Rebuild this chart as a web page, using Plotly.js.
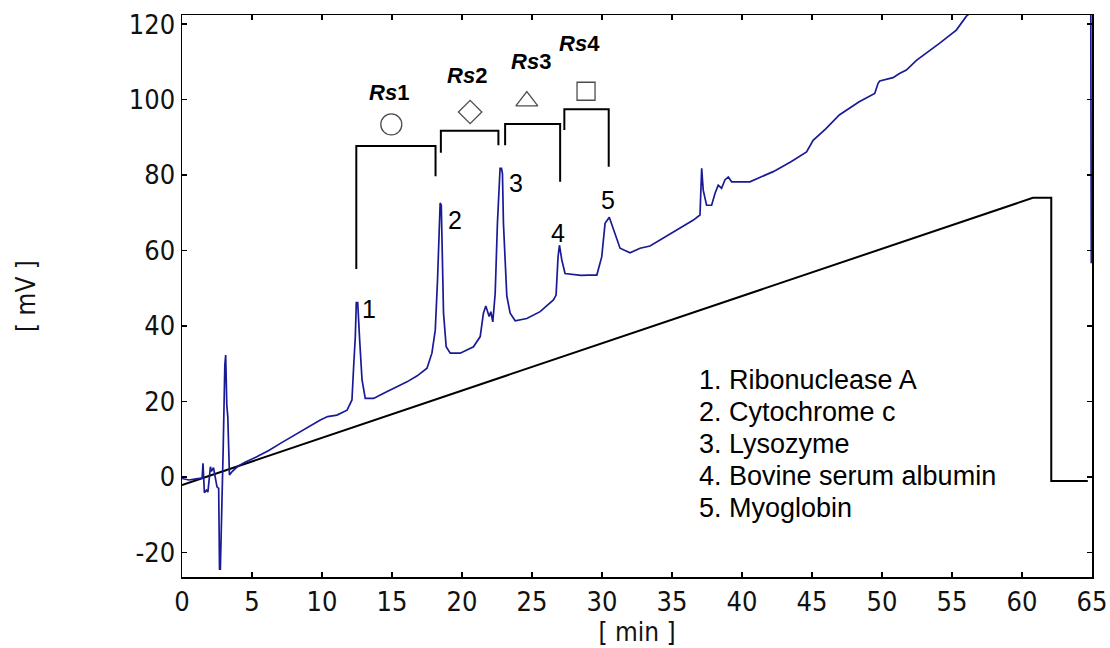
<!DOCTYPE html>
<html>
<head>
<meta charset="utf-8">
<script src="https://cdn.plot.ly/plotly-3.0.1.min.js"></script>
<style>html,body{margin:0;padding:0;background:#fff;}#chart{width:1110px;height:648px;}</style>
</head>
<body>
<div id="chart"></div>
<script>
// Detector signal (blue trace)
const timeMin = [0,0.5,1.0,1.44,1.5,1.55,1.6,1.75,1.85,2.03,2.1,2.25,2.35,2.5,2.62,2.68,2.74,2.82,2.94,3.06,3.12,3.2,3.27,3.39,3.6,3.94,4.5,5.37,6.2,7.03,7.8,8.69,9.3,9.88,10.4,11.07,11.79,12.14,12.26,12.38,12.45,12.55,12.69,12.86,13.09,13.69,14.3,14.88,15.5,16.07,16.8,17.5,17.85,18.09,18.25,18.35,18.44,18.52,18.57,18.68,18.87,19.16,19.87,20.35,20.82,21.3,21.53,21.7,21.94,22.06,22.2,22.37,22.53,22.72,22.82,22.89,22.96,23.2,23.44,23.8,24.63,25.58,26.53,26.72,26.86,26.96,27.13,27.36,28.0,28.5,29.0,29.63,29.98,30.22,30.52,30.93,31.29,32.0,32.72,33.43,34.14,35.57,36.5,37.0,37.07,37.12,37.23,37.47,37.83,38.07,38.3,38.54,38.78,39.02,39.26,40.56,42.23,43.5,44.61,45.08,46.0,46.95,48.37,49.48,49.72,49.84,50.79,51.25,51.74,52.46,54.1,55.31,56.03,58.0,62.0,64.9,64.95];
const signalMV = [-0.4,-0.8,-0.5,-0.3,3.6,-1,-4.2,-3.5,-4.0,2.7,1.5,2.5,0.5,-2.6,-3,-24.4,-24.4,-7.9,7.1,29.7,32.3,19,16,0.5,1.5,2.7,3.9,5.4,7.0,8.9,10.6,12.4,13.8,15.1,16.0,16.4,17.7,20.4,29.2,37.2,46.2,46.2,36.3,25.7,20.8,20.8,22.0,23.0,24.1,25.2,26.8,28.8,32.8,38.9,52,60.6,72.6,72.0,61.9,43.4,34.5,32.8,32.8,33.6,34.5,37.2,43.4,45.3,42.5,43.8,41.1,48.6,67.2,81.8,81.8,80.4,67.2,48,43.4,41.4,42.0,43.8,46.9,48.2,58.3,61.4,57.5,53.9,53.6,53.4,53.5,53.5,58.3,67.2,68.8,64.5,60.6,59.4,60.6,61.2,62.8,65.9,68.0,69.4,78,81.8,76.0,72.0,72.0,75.1,77.3,76.5,78.7,79.5,78.2,78.2,80.9,83.5,86.1,89.2,92.3,95.9,99.4,101.6,104.3,104.9,105.8,106.9,107.8,110.4,114.9,118.4,122.1,128,140,150,56.6];

// Gradient profile (black line)
const gradTime = [0, 60.78, 62.09, 62.09, 64.7];
const gradValue = [-2.16, 73.97, 73.97, -1.06, -1.06];

// Peak labels
const peakIds = ['1','2','3','4','5'];
const peakTime = [13.34, 19.51, 23.85, 26.84, 30.41];
const peakValue = [44.4, 68.2, 77.8, 64.7, 73.4];

// Resolution brackets
const rsNames = ['1','2','3','4'];
const rsStart = [12.45, 18.49, 23.08, 27.31];
const rsEnd = [18.11, 22.60, 27.01, 30.48];
const rsTop = [87.7, 91.7, 93.5, 97.4];
const rsStartLow = [55.1, 85.9, 87.9, 91.9];
const rsEndLow = [79.7, 87.9, 78.2, 82.2];
const rsSymbols = ['circle-open', 'diamond-open', 'triangle-up-open', 'square-open'];
const rsSymbolX = [14.95, 20.58, 24.63, 28.86];
const rsSymbolY = [93.4, 96.7, 99.6, 102.2];
const rsLabelX = [14.76, 20.35, 24.94, 28.36];
const rsLabelY = [102.0, 106.3, 110.0, 114.9];

// Protein legend
const proteins = ['Ribonuclease A', 'Cytochrome c', 'Lysozyme', 'Bovine serum albumin', 'Myoglobin'];

const xTicks = [0,5,10,15,20,25,30,35,40,45,50,55,60,65];
const yTicks = [-20,0,20,40,60,80,100,120];

const bx = [], by = [];
for (let i = 0; i < rsNames.length; i++) {
  bx.push(rsStart[i], rsStart[i], rsEnd[i], rsEnd[i], null);
  by.push(rsStartLow[i], rsTop[i], rsTop[i], rsEndLow[i], null);
}

const traces = [
  {x: gradTime, y: gradValue, mode: 'lines', line: {color: '#000', width: 2}, hoverinfo: 'skip'},
  {x: timeMin, y: signalMV, mode: 'lines', line: {color: '#1a1a96', width: 1.7}},
  {x: bx, y: by, mode: 'lines', line: {color: '#000', width: 2}, connectgaps: false, hoverinfo: 'skip'},
  {x: rsSymbolX, y: rsSymbolY, mode: 'markers', hoverinfo: 'skip',
   marker: {symbol: rsSymbols, size: [21, 18, 19, 18], color: '#000', line: {color: '#000', width: 1.3}}}
];

const ann = [];
const arial = 'Liberation Sans, Arial, Helvetica, sans-serif';
for (let i = 0; i < peakIds.length; i++) {
  ann.push({x: peakTime[i], y: peakValue[i], xref: 'x', yref: 'y', text: peakIds[i], showarrow: false,
    font: {family: arial, size: 25, color: '#000'}});
}
for (let i = 0; i < rsNames.length; i++) {
  ann.push({x: rsLabelX[i], y: rsLabelY[i], xref: 'x', yref: 'y', text: '<b><i>Rs</i>' + rsNames[i] + '</b>', showarrow: false,
    font: {family: arial, size: 22, color: '#000'}});
}
const legY = [25.6, 17.1, 8.7, 0.26, -8.2];
for (let i = 0; i < proteins.length; i++) {
  ann.push({x: 36.75, y: legY[i], xref: 'x', yref: 'y', xanchor: 'left', yanchor: 'middle',
    text: (i + 1) + '. ' + proteins[i], showarrow: false,
    font: {family: arial, size: 27, color: '#000'}});
}

const narrow = 'Liberation Sans Narrow, DejaVu Sans Condensed, Arial Narrow, sans-serif';
const layout = {
  width: 1110, height: 648,
  margin: {l: 181.5, r: 18, t: 15, b: 71},
  paper_bgcolor: '#fff', plot_bgcolor: '#fff',
  showlegend: false,
  xaxis: {
    range: [0, 65], tickvals: xTicks, ticktext: xTicks.map(String),
    ticks: 'inside', ticklen: 5, tickwidth: 1.2, tickcolor: '#000',
    showline: true, linecolor: '#000', linewidth: 1.5, mirror: 'ticks',
    showgrid: false, zeroline: false,
    tickfont: {family: narrow, size: 27, color: '#111'},
    title: {text: '[ min ]', font: {family: narrow, size: 26, color: '#111'}, standoff: 3}
  },
  yaxis: {
    range: [-26.5, 122.4], tickvals: yTicks, ticktext: yTicks.map(String),
    ticks: 'inside', ticklen: 5, tickwidth: 1.2, tickcolor: '#000',
    showline: true, linecolor: '#000', linewidth: 1.5, mirror: 'ticks',
    showgrid: false, zeroline: false,
    tickfont: {family: narrow, size: 27, color: '#111'},
    title: {text: '[ mV ]', font: {family: narrow, size: 26, color: '#111'}, standoff: 85}
  },
  annotations: ann
};

Plotly.newPlot('chart', traces, layout, {displayModeBar: false, staticPlot: true});
</script>
</body>
</html>
